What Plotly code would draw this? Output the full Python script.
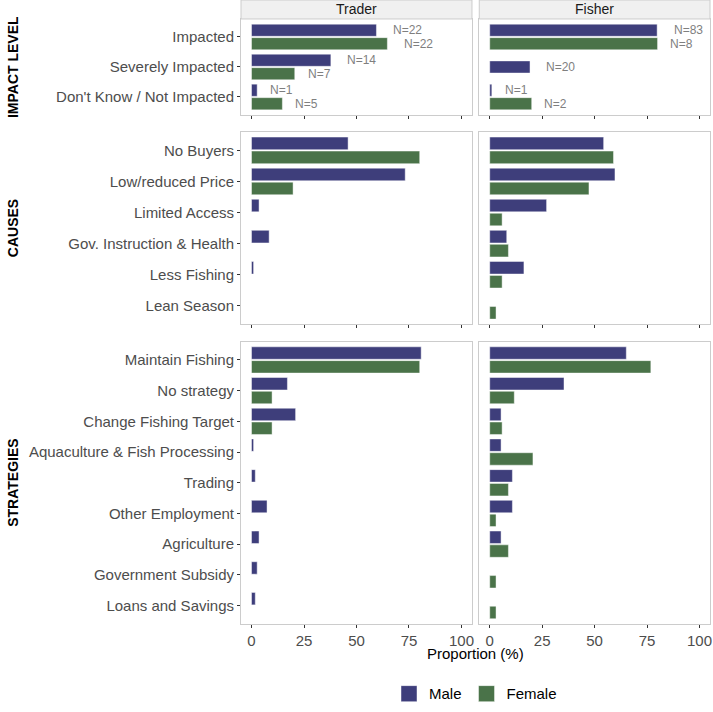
import plotly.graph_objects as go

# categories (top to bottom)
impact_cats = ["Impacted", "Severely Impacted", "Don't Know / Not Impacted"]
cause_cats = ["No Buyers", "Low/reduced Price", "Limited Access",
              "Gov. Instruction & Health", "Less Fishing", "Lean Season"]
strategy_cats = ["Maintain Fishing", "No strategy", "Change Fishing Target",
                 "Aquaculture & Fish Processing", "Trading", "Other Employment",
                 "Agriculture", "Government Subsidy", "Loans and Savings"]

# proportions (%), None = no bar in the data
trader_impact_male = [59.5, 37.8, 2.7]
trader_impact_female = [64.7, 20.6, 14.7]
fisher_impact_male = [79.8, 19.2, 1.0]
fisher_impact_female = [80.0, None, 20.0]

trader_impact_male_n = ["N=22", "N=14", "N=1"]
trader_impact_female_n = ["N=22", "N=7", "N=5"]
fisher_impact_male_n = ["N=83", "N=20", "N=1"]
fisher_impact_female_n = ["N=8", None, "N=2"]

trader_cause_male = [46.0, 73.2, 3.6, 8.4, 1.0, 0]
trader_cause_female = [80.1, 19.8, 0, 0, 0, 0]
fisher_cause_male = [54.3, 59.7, 27.1, 8.1, 16.3, 0]
fisher_cause_female = [59.0, 47.3, 5.9, 8.9, 5.9, 3.0]

trader_strategy_male = [80.8, 17.1, 21.0, 1.0, 1.8, 7.4, 3.6, 2.7, 1.8]
trader_strategy_female = [80.1, 9.8, 9.8, 0, 0, 0, 0, 0, 0]
fisher_strategy_male = [65.1, 35.4, 5.4, 5.4, 10.8, 10.8, 5.4, 0, 0]
fisher_strategy_female = [76.8, 11.7, 5.9, 20.6, 8.9, 3.0, 8.9, 3.0, 3.0]

x_ticks = [0, 25, 50, 75, 100]
row_titles = ["IMPACT LEVEL", "CAUSES", "STRATEGIES"]
col_titles = ["Trader", "Fisher"]

male_color = "#3E3E7B"
female_color = "#4A7349"
edge = "rgba(255,255,255,0.45)"
font = "Liberation Sans"

# panel domains (paper units)
x_domains = [[0, 0.4925], [0.508, 1]]
y_domains = [[0.8157, 0.9696], [0.48, 0.7889], [0, 0.4527]]
strip_y = [0.9696, 1]

panels = [
    (0, 0, impact_cats, trader_impact_male, trader_impact_female, trader_impact_male_n, trader_impact_female_n),
    (0, 1, impact_cats, fisher_impact_male, fisher_impact_female, fisher_impact_male_n, fisher_impact_female_n),
    (1, 0, cause_cats, trader_cause_male, trader_cause_female, None, None),
    (1, 1, cause_cats, fisher_cause_male, fisher_cause_female, None, None),
    (2, 0, strategy_cats, trader_strategy_male, trader_strategy_female, None, None),
    (2, 1, strategy_cats, fisher_strategy_male, fisher_strategy_female, None, None),
]

bar_w = 0.405
fig = go.Figure()
layout = {}
annotations = []
shapes = []

for row, col, cats, male, female, male_n, female_n in panels:
    k = row * 2 + col + 1
    xa = "x" if k == 1 else "x%d" % k
    ya = "y" if k == 1 else "y%d" % k

    # dodge like ggplot: single bars get centred
    m_off, f_off = [], []
    for m, f in zip(male, female):
        if m is not None and f is not None:
            m_off.append(-0.4275)
            f_off.append(0.0225)
        else:
            m_off.append(-bar_w / 2)
            f_off.append(-bar_w / 2)

    fig.add_trace(go.Bar(x=male, y=cats, orientation="h", width=bar_w, offset=m_off,
                         marker=dict(color=male_color, line=dict(color=edge, width=1)),
                         xaxis=xa, yaxis=ya, showlegend=False, name="Male"))
    fig.add_trace(go.Bar(x=female, y=cats, orientation="h", width=bar_w, offset=f_off,
                         marker=dict(color=female_color, line=dict(color=edge, width=1)),
                         xaxis=xa, yaxis=ya, showlegend=False, name="Female"))

    # N labels (hjust = -0.5 style)
    for vals, labels, offs in ((male, male_n, m_off), (female, female_n, f_off)):
        if labels is None:
            continue
        for i, (v, lab) in enumerate(zip(vals, labels)):
            if lab is None or v is None:
                continue
            annotations.append(dict(x=v, y=i + offs[i] + bar_w / 2, xref=xa, yref=ya,
                                    text=lab, showarrow=False, xanchor="left", yanchor="middle",
                                    xshift=len(lab) * 3.6,
                                    font=dict(family=font, size=12, color="#7F7F7F")))

    bottom = row == 2
    layout["xaxis" if k == 1 else "xaxis%d" % k] = dict(
        domain=x_domains[col], anchor=ya, range=[-5, 105],
        tickvals=x_ticks, showticklabels=bottom, ticks="outside", ticklen=3,
        tickcolor="#333333", tickwidth=1, showgrid=False, zeroline=False,
        showline=True, mirror=True, linecolor="#CCCCCC", linewidth=1,
        tickfont=dict(family=font, size=15, color="#4D4D4D"),
    )
    layout["yaxis" if k == 1 else "yaxis%d" % k] = dict(
        domain=y_domains[row], anchor=xa, type="category",
        categoryorder="array", categoryarray=cats,
        range=[len(cats) - 0.4, -0.6],
        showticklabels=(col == 0), ticks="outside" if col == 0 else "",
        ticklen=3, tickcolor="#333333", tickwidth=1,
        showgrid=False, zeroline=False,
        showline=True, mirror=True, linecolor="#CCCCCC", linewidth=1,
        tickfont=dict(family=font, size=15, color="#4D4D4D"),
    )

# facet strips
for col, title in enumerate(col_titles):
    shapes.append(dict(type="rect", xref="paper", yref="paper",
                       x0=x_domains[col][0], x1=x_domains[col][1],
                       y0=strip_y[0], y1=strip_y[1],
                       fillcolor="#F0F0F0", line=dict(color="#CCCCCC", width=1)))
    annotations.append(dict(x=sum(x_domains[col]) / 2, y=sum(strip_y) / 2,
                            xref="paper", yref="paper", text=title, showarrow=False,
                            xanchor="center", yanchor="middle",
                            font=dict(family=font, size=14, color="#1A1A1A")))

# row titles
for row, title in enumerate(row_titles):
    annotations.append(dict(x=-0.486, y=sum(y_domains[row]) / 2, xref="paper", yref="paper",
                            text="<b>%s</b>" % title, showarrow=False, textangle=-90,
                            xanchor="center", yanchor="middle",
                            font=dict(family=font, size=14, color="black")))

# shared x title
annotations.append(dict(x=0.5, y=-0.0465, xref="paper", yref="paper",
                        text="Proportion (%)", showarrow=False,
                        xanchor="center", yanchor="middle",
                        font=dict(family=font, size=15, color="black")))

# legend entries
fig.add_trace(go.Scatter(x=[None], y=[None], mode="markers", name="Male",
                         marker=dict(symbol="square", size=16, color=male_color,
                                     line=dict(color=edge, width=1))))
fig.add_trace(go.Scatter(x=[None], y=[None], mode="markers", name="Female",
                         marker=dict(symbol="square", size=16, color=female_color,
                                     line=dict(color=edge, width=1))))

fig.update_layout(
    width=713, height=712,
    margin=dict(l=241, r=3, t=0, b=88),
    plot_bgcolor="white", paper_bgcolor="white",
    annotations=annotations, shapes=shapes,
    legend=dict(orientation="h", x=0.5, xanchor="center", y=-0.112, yanchor="middle",
                itemsizing="trace", font=dict(family=font, size=15, color="black")),
    **layout,
)

# page has a default 8px body margin; drop it so the figure sits at the corner
fig.write_html("out.html", config={"displayModeBar": False},
               post_script="document.body.style.margin='0';")
